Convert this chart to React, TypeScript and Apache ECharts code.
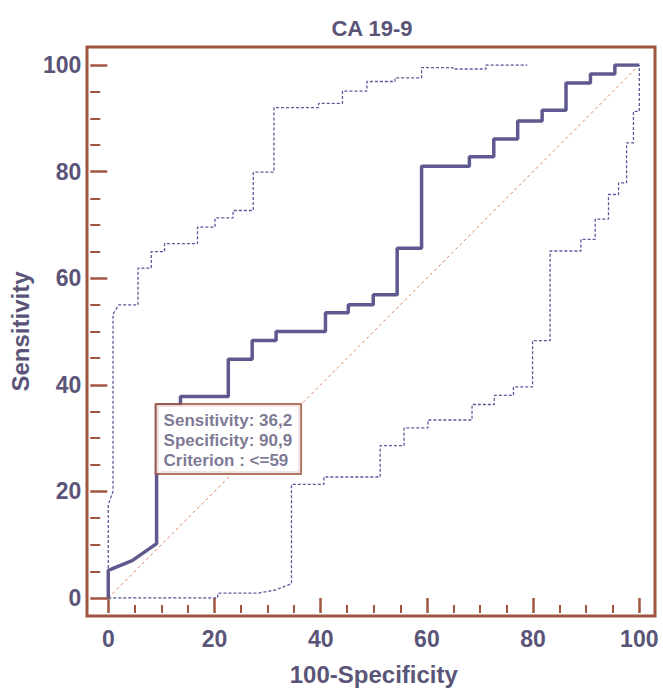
import React, { useEffect, useRef } from "react";
import * as echarts from "echarts";

// ROC curve vertices (100-Specificity, Sensitivity)
const rocX = [0, 0, 4.5, 9.1, 9.1, 13.6, 13.6, 22.6, 22.6, 27.1, 27.1, 31.6, 31.6, 40.9, 40.9, 45.2, 45.2, 49.9, 49.9, 54.4, 54.4, 59.0, 59.0, 68.0, 68.0, 72.6, 72.6, 77.1, 77.1, 81.7, 81.7, 86.2, 86.2, 90.8, 90.8, 95.4, 95.4, 100];
const rocY = [0, 5.2, 7.0, 10.2, 36.2, 36.2, 37.8, 37.8, 44.8, 44.8, 48.3, 48.3, 50.0, 50.0, 53.5, 53.5, 55.0, 55.0, 56.9, 56.9, 65.6, 65.6, 81.0, 81.0, 82.8, 82.8, 86.1, 86.1, 89.5, 89.5, 91.5, 91.5, 96.6, 96.6, 98.3, 98.3, 100, 100];

// Upper 95% confidence bound
const upperX = [0, 0, 0.9, 0.9, 2.0, 5.6, 5.6, 8.1, 8.1, 10.6, 10.6, 16.8, 16.8, 20.1, 20.1, 23.5, 23.5, 27.3, 27.3, 31.2, 31.2, 39.6, 39.6, 44.1, 44.1, 48.7, 48.7, 54.0, 54.0, 59.0, 59.0, 64.9, 64.9, 71.1, 71.1, 78.9];
const upperY = [0, 17.5, 20.0, 53.3, 55.0, 55.0, 61.9, 61.9, 65.0, 65.0, 66.5, 66.5, 69.6, 69.6, 71.3, 71.3, 72.7, 72.7, 79.9, 79.9, 92.0, 92.0, 92.8, 92.8, 95.1, 95.1, 96.9, 96.9, 97.6, 97.6, 99.5, 99.5, 99.25, 99.25, 100, 100];

// Lower 95% confidence bound
const lowerX = [0, 20.6, 20.6, 28.1, 31.5, 34.5, 34.5, 40.6, 40.6, 51.2, 51.2, 55.7, 55.7, 60.2, 60.2, 68.5, 68.5, 72.7, 72.7, 76.3, 76.3, 79.9, 79.9, 83.2, 83.2, 89.0, 89.0, 91.7, 91.7, 94.2, 94.2, 96.1, 96.1, 97.6, 97.6, 98.9, 98.9, 100, 100];
const lowerY = [0, 0, 0.9, 0.9, 1.5, 2.7, 21.3, 21.3, 22.7, 22.7, 28.6, 28.6, 31.9, 31.9, 33.4, 33.4, 36.3, 36.3, 38.0, 38.0, 39.6, 39.6, 48.3, 48.3, 65.1, 65.1, 67.3, 67.3, 71.1, 71.1, 75.7, 75.7, 77.9, 77.9, 85.4, 85.4, 91.3, 91.3, 100];

// Reference diagonal
const diagX = [0, 100];
const diagY = [0, 100];

// Optimal cut-off point
const cutoff = { x: 9.1, y: 36.2, sensitivity: "36,2", specificity: "90,9", criterion: "<=59" };

const xTicks = { min: 0, max: 100, interval: 20 };
const yTicks = { min: 0, max: 100, interval: 20 };

const zip = (xs: number[], ys: number[]) => xs.map((x, i) => [x, ys[i]]);

const FRAME = "#a0553f";
const TEXT = "#5a5578";
const CURVE = "#5e5a8f";
const FONT = "'Liberation Sans', Arial, sans-serif";

export default function App() {
  const ref = useRef<HTMLDivElement>(null);
  useEffect(() => {
    if (!ref.current) return;
    const chart = echarts.init(ref.current, undefined, { renderer: "svg" });
    chart.setOption({
      animation: false,
      backgroundColor: "#ffffff",
      grid: { left: 105, right: 23.7, top: 65, bottom: 90.3 },
      graphic: [
        {
          type: "rect",
          shape: { x: 87, y: 47, width: 568, height: 569 },
          style: { fill: "none", stroke: FRAME, lineWidth: 3 },
          z: 10,
        },
        {
          type: "text",
          x: 372,
          y: 28,
          style: {
            text: "CA 19-9",
            align: "center",
            verticalAlign: "middle",
            fill: TEXT,
            font: `bold 22px ${FONT}`,
          },
        },
      ],
      xAxis: {
        type: "value",
        min: xTicks.min,
        max: xTicks.max,
        interval: xTicks.interval,
        offset: 15,
        name: "100-Specificity",
        nameLocation: "middle",
        nameGap: 49,
        nameTextStyle: { color: TEXT, fontSize: 24, fontWeight: "bold", fontFamily: FONT },
        axisLine: { show: true, onZero: false, lineStyle: { color: "rgba(0,0,0,0)", width: 0 } },
        axisTick: { show: true, inside: true, length: 15, lineStyle: { color: FRAME, width: 2.5 } },
        minorTick: { show: true, splitNumber: 4, length: 8, lineStyle: { color: FRAME, width: 2 } },
        splitLine: { show: false },
        minorSplitLine: { show: false },
        axisLabel: { margin: 14, color: TEXT, fontSize: 23, fontWeight: "bold", fontFamily: FONT },
      },
      yAxis: {
        type: "value",
        min: yTicks.min,
        max: yTicks.max,
        interval: yTicks.interval,
        offset: 18,
        name: "Sensitivity",
        nameLocation: "middle",
        nameRotate: 90,
        nameGap: 54,
        nameTextStyle: { color: TEXT, fontSize: 24, fontWeight: "bold", fontFamily: FONT },
        axisLine: { show: true, onZero: false, lineStyle: { color: "rgba(0,0,0,0)", width: 0 } },
        axisTick: { show: true, inside: true, length: 17, lineStyle: { color: FRAME, width: 2.5 } },
        minorTick: { show: true, splitNumber: 4, length: 10, lineStyle: { color: FRAME, width: 2 } },
        splitLine: { show: false },
        minorSplitLine: { show: false },
        axisLabel: { margin: 9, color: TEXT, fontSize: 23, fontWeight: "bold", fontFamily: FONT },
      },
      series: [
        {
          type: "line",
          data: zip(diagX, diagY),
          symbol: "none",
          lineStyle: { color: "#e0805c", width: 1, type: [3, 3] },
          z: 1,
        },
        {
          type: "line",
          data: zip(upperX, upperY),
          symbol: "none",
          lineStyle: { color: "#5a589a", width: 1.3, type: [3, 2] },
          z: 2,
        },
        {
          type: "line",
          data: zip(lowerX, lowerY),
          symbol: "none",
          lineStyle: { color: "#5a589a", width: 1.3, type: [3, 2] },
          z: 2,
        },
        {
          type: "line",
          data: zip(rocX, rocY),
          symbol: "none",
          lineStyle: { color: CURVE, width: 3.5 },
          z: 3,
        },
        {
          type: "scatter",
          data: [[cutoff.x, cutoff.y]],
          symbolSize: 0,
          z: 5,
          label: {
            show: true,
            position: [0, 0],
            align: "left",
            verticalAlign: "top",
            formatter: () =>
              `Sensitivity: ${cutoff.sensitivity}\nSpecificity: ${cutoff.specificity}\nCriterion : ${cutoff.criterion}`,
            backgroundColor: "#ffffff",
            borderColor: FRAME,
            borderWidth: 2,
            padding: [5, 8, 3, 7],
            lineHeight: 20,
            fontSize: 17,
            fontWeight: "bold",
            fontFamily: FONT,
            color: TEXT,
          },
        },
      ],
    });
    return () => chart.dispose();
  }, []);
  return (
    <div
      ref={ref}
      style={{ position: "fixed", left: 0, top: 0, width: 663, height: 691, background: "#fff" }}
    />
  );
}
